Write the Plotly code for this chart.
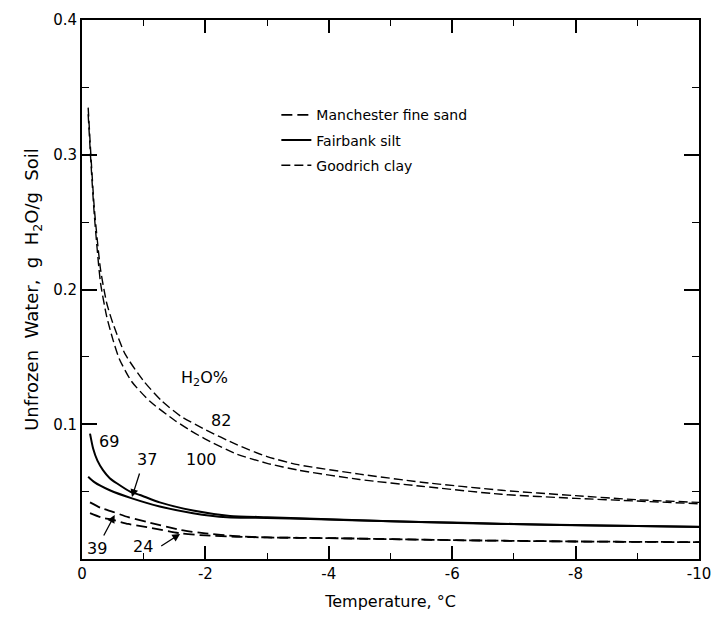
import plotly.graph_objects as go

# Goodrich clay (two water contents)
clay82_t = [-0.1, -0.15, -0.2, -0.3, -0.4, -0.5, -0.7, -1.0, -1.3, -1.6, -2.0, -2.5, -3.0, -3.5, -4.5, -5.5, -6.8, -8.0, -9.0, -10.0]
clay82_w = [0.335, 0.295, 0.26, 0.215, 0.19, 0.175, 0.152, 0.132, 0.117, 0.106, 0.096, 0.085, 0.076, 0.070, 0.063, 0.057, 0.051, 0.047, 0.044, 0.042]
clay100_t = [-0.1, -0.15, -0.2, -0.3, -0.4, -0.5, -0.6, -0.8, -1.1, -1.5, -1.75, -2.0, -2.5, -3.0, -3.5, -4.5, -5.5, -6.8, -8.0, -9.0, -10.0]
clay100_w = [0.33, 0.29, 0.255, 0.205, 0.18, 0.163, 0.149, 0.132, 0.117, 0.103, 0.0955, 0.089, 0.078, 0.071, 0.066, 0.059, 0.054, 0.048, 0.045, 0.043, 0.041]

# Fairbank silt
silt69_t = [-0.13, -0.18, -0.25, -0.34, -0.45, -0.57, -0.78, -0.94, -1.26, -1.8, -2.4, -3.0, -4.0, -5.0, -6.0, -7.0, -8.0, -9.0, -10.0]
silt69_w = [0.093, 0.082, 0.073, 0.066, 0.060, 0.056, 0.050, 0.0475, 0.042, 0.036, 0.032, 0.031, 0.0295, 0.028, 0.027, 0.026, 0.025, 0.0245, 0.024]
silt37_t = [-0.1, -0.2, -0.45, -0.81, -1.26, -1.8, -2.35, -3.0, -3.7, -5.0, -6.8, -8.5, -10.0]
silt37_w = [0.061, 0.057, 0.051, 0.045, 0.039, 0.034, 0.031, 0.0305, 0.0297, 0.028, 0.026, 0.0248, 0.0238]

# Manchester fine sand
sand39_t = [-0.13, -0.3, -0.5, -0.75, -1.05, -1.6, -2.0, -2.5, -3.0, -4.0, -6.0, -8.0, -10.0]
sand39_w = [0.042, 0.038, 0.035, 0.031, 0.0275, 0.0215, 0.019, 0.017, 0.016, 0.0155, 0.014, 0.013, 0.0125]
sand24_t = [-0.13, -0.3, -0.5, -0.75, -1.05, -1.6, -2.0, -2.5, -3.0, -4.0, -6.0, -8.0, -10.0]
sand24_w = [0.034, 0.031, 0.029, 0.026, 0.0237, 0.019, 0.0175, 0.0165, 0.016, 0.0155, 0.014, 0.013, 0.0125]

x_tickvals = [0, -2, -4, -6, -8, -10]
x_ticktext = ["0", "-2", "-4", "-6", "-8", "-10"]
y_tickvals = [0.1, 0.2, 0.3, 0.4]
y_ticktext = ["0.1", "0.2", "0.3", "0.4"]

# label texts and positions (data coords)
labels = [("H<sub>2</sub>O%", -1.99, 0.134), ("82", -2.25, 0.103), ("100", -1.93, 0.0735),
          ("69", -0.43, 0.087), ("37", -1.05, 0.0735), ("39", -0.24, 0.008), ("24", -0.99, 0.009)]
arrows = [(-0.81, 0.046, -0.94, 0.0646), (-0.53, 0.0327, -0.34, 0.0163), (-1.59, 0.0186, -1.26, 0.0089)]

FONT = "DejaVu Sans"
sand_dash = "11px,5px"
clay_dash = "9px,4px"

fig = go.Figure()
def add(t, w, name, grp, show, width, dash=None):
    fig.add_trace(go.Scatter(x=t, y=w, mode="lines", name=name, legendgroup=grp, showlegend=show,
                             line=dict(color="black", width=width, dash=dash, shape="spline", smoothing=0.6)))

add(sand39_t, sand39_w, "Manchester fine sand", "a", True, 1.8, sand_dash)
add(sand24_t, sand24_w, "Manchester fine sand", "a", False, 1.8, sand_dash)
add(silt69_t, silt69_w, "Fairbank silt", "b", True, 2.0)
add(silt37_t, silt37_w, "Fairbank silt", "b", False, 2.0)
add(clay82_t, clay82_w, "Goodrich clay", "c", True, 1.4, clay_dash)
add(clay100_t, clay100_w, "Goodrich clay", "c", False, 1.4, clay_dash)

for txt, x, y in labels:
    fig.add_annotation(x=x, y=y, text=txt, showarrow=False, font=dict(family=FONT, size=16, color="black"))
for hx, hy, tx, ty in arrows:
    fig.add_annotation(x=hx, y=hy, ax=tx, ay=ty, axref="x", ayref="y", text="", showarrow=True,
                       arrowhead=2, arrowsize=1.2, arrowwidth=1.3, arrowcolor="black")

axis_common = dict(showline=True, linecolor="black", linewidth=2, mirror="ticks", ticks="inside",
                   tickcolor="black", showgrid=False, zeroline=False, automargin=False,
                   tickfont=dict(family=FONT, size=15, color="black"))
fig.update_xaxes(range=[0, -10], tickvals=x_tickvals, ticktext=x_ticktext, ticklen=13, tickwidth=1.5,
                 minor=dict(dtick=1, tick0=0, ticks="inside", ticklen=6, tickcolor="black", tickwidth=1.2),
                 title=dict(text="Temperature, °C", font=dict(family=FONT, size=16, color="black"), standoff=14),
                 **axis_common)
fig.update_yaxes(range=[0, 0.4], tickvals=y_tickvals, ticktext=y_ticktext, ticklen=15, tickwidth=1.5,
                 minor=dict(dtick=0.05, tick0=0, ticks="inside", ticklen=7, tickcolor="black", tickwidth=1.2),
                 title=dict(text="Unfrozen  Water,  g  H<sub>2</sub>O/g  Soil", font=dict(family=FONT, size=18, color="black"), standoff=10),
                 **axis_common)
fig.update_layout(width=712, height=621, margin=dict(l=82, r=13, t=20, b=62),
                  paper_bgcolor="white", plot_bgcolor="white",
                  showlegend=True,
                  legend=dict(x=0.315, y=0.853, xanchor="left", yanchor="top", bgcolor="rgba(0,0,0,0)",
                              font=dict(family=FONT, size=14, color="black"), tracegroupgap=4,
                              itemwidth=30))
fig.write_html("out.html", config={"displayModeBar": False},
               post_script="document.body.style.margin='0';document.body.style.overflow='hidden';")
